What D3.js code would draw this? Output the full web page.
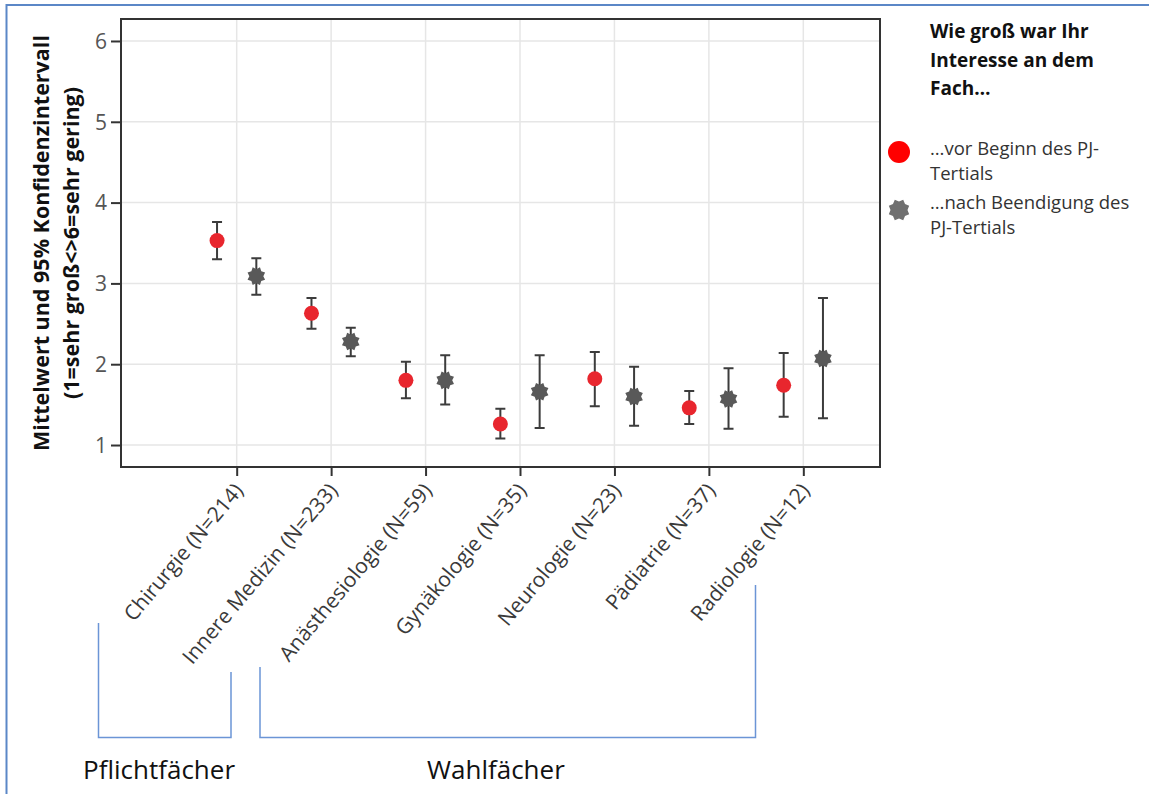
<!DOCTYPE html>
<html>
<head>
<meta charset="utf-8">
<script src="https://cdn.jsdelivr.net/npm/d3@7"></script>
<style>
  html, body { margin: 0; padding: 0; background: #fff; }
  svg { display: block; }
  text { font-family: "Open Sans", "Noto Sans", sans-serif; }
</style>
</head>
<body>
<svg id="chart" width="1149" height="794"></svg>
<script>
// Fächer und Fallzahlen
const categories = ["Chirurgie (N=214)", "Innere Medizin (N=233)", "Anästhesiologie (N=59)",
  "Gynäkologie (N=35)", "Neurologie (N=23)", "Pädiatrie (N=37)", "Radiologie (N=12)"];

// Mittelwerte und 95%-KI: vor Beginn des PJ-Tertials
const vorMean  = [3.53, 2.63, 1.80, 1.26, 1.82, 1.46, 1.74];
const vorLow   = [3.30, 2.44, 1.58, 1.08, 1.48, 1.26, 1.35];
const vorHigh  = [3.76, 2.82, 2.03, 1.45, 2.15, 1.67, 2.14];

// Mittelwerte und 95%-KI: nach Beendigung des PJ-Tertials
const nachMean = [3.09, 2.28, 1.80, 1.66, 1.60, 1.57, 2.07];
const nachLow  = [2.86, 2.10, 1.50, 1.21, 1.24, 1.20, 1.33];
const nachHigh = [3.31, 2.45, 2.11, 2.11, 1.97, 1.95, 2.82];

const yTicks = [1, 2, 3, 4, 5, 6];

const legendTitle = ["Wie groß war Ihr", "Interesse an dem", "Fach…"];
const legendVor  = ["…vor Beginn des PJ-", "Tertials"];
const legendNach = ["…nach Beendigung des", "PJ-Tertials"];
const yTitle = ["Mittelwert und 95% Konfidenzintervall", "(1=sehr groß<>6=sehr gering)"];
const groupLabels = ["Pflichtfächer", "Wahlfächer"];

const svg = d3.select("#chart");

// outer frame (left and top edges)
svg.append("path")
  .attr("d", "M6.5,794 V5 H1149")
  .attr("fill", "none").attr("stroke", "#5b87c7").attr("stroke-width", 2);

const plot = { left: 121, right: 880, top: 19, bottom: 467 };

const x = d3.scaleLinear().domain([-1.225, 6.812]).range([plot.left, plot.right]);
const y = d3.scaleLinear().domain([0.728, 6.272]).range([plot.bottom, plot.top]);
const idx = d3.range(categories.length);
const shift = 0.208; // horizontal offset of the two series within a category

// grid
const grid = svg.append("g").attr("stroke", "#e6e6e6").attr("stroke-width", 1.5);
grid.selectAll("line.h").data(yTicks).join("line")
  .attr("x1", plot.left).attr("x2", plot.right)
  .attr("y1", d => y(d)).attr("y2", d => y(d));
grid.selectAll("line.v").data(idx).join("line")
  .attr("y1", plot.top).attr("y2", plot.bottom)
  .attr("x1", d => x(d)).attr("x2", d => x(d));

// axes
const yAxis = d3.axisLeft(y).tickValues(yTicks).tickSize(10).tickPadding(4).tickFormat(d3.format("d"));
const gy = svg.append("g").attr("transform", `translate(${plot.left},0)`).call(yAxis);
gy.select(".domain").remove();
gy.selectAll(".tick line").attr("stroke", "#333").attr("stroke-width", 2);
gy.selectAll(".tick text").attr("font-size", 21).attr("fill", "#555").attr("dy", "0.35em");

const xAxis = d3.axisBottom(x).tickValues(idx).tickSize(9).tickFormat(i => categories[i]);
const gx = svg.append("g").attr("transform", `translate(0,${plot.bottom})`).call(xAxis);
gx.select(".domain").remove();
gx.selectAll(".tick line").attr("stroke", "#333").attr("stroke-width", 2);
gx.selectAll(".tick text")
  .attr("font-size", 21).attr("fill", "#3a3a3a")
  .attr("text-anchor", "end")
  .attr("y", 0).attr("dy", 0)
  .attr("transform", "translate(7,24) rotate(-50)");

// plot frame
svg.append("rect")
  .attr("x", plot.left).attr("y", plot.top)
  .attr("width", plot.right - plot.left).attr("height", plot.bottom - plot.top)
  .attr("fill", "none").attr("stroke", "#333").attr("stroke-width", 2);

// error bars
function errorBars(mean, low, high, off) {
  const g = svg.append("g").attr("stroke", "#3c3c3c").attr("stroke-width", 2).attr("fill", "none");
  const d = idx.map(i => ({ cx: x(i + off), lo: y(low[i]), hi: y(high[i]) }));
  g.selectAll("path").data(d).join("path")
    .attr("d", p => `M${p.cx - 5},${p.hi} H${p.cx + 5} M${p.cx},${p.hi} V${p.lo} M${p.cx - 5},${p.lo} H${p.cx + 5}`);
}
errorBars(vorMean, vorLow, vorHigh, -shift);
errorBars(nachMean, nachLow, nachHigh, shift);

// 8-pointed star marker
function starPath(rOut, rIn, n) {
  const pts = [];
  for (let k = 0; k < 2 * n; k++) {
    const r = k % 2 === 0 ? rOut : rIn;
    const a = Math.PI * k / n - Math.PI / 2;
    pts.push([r * Math.cos(a), r * Math.sin(a)]);
  }
  return "M" + pts.map(p => p.join(",")).join("L") + "Z";
}

svg.append("g").selectAll("circle").data(idx).join("circle")
  .attr("cx", i => x(i - shift)).attr("cy", i => y(vorMean[i]))
  .attr("r", 7.5).attr("fill", "#e8262e");

svg.append("g").selectAll("path").data(idx).join("path")
  .attr("transform", i => `translate(${x(i + shift)},${y(nachMean[i])}) rotate(22.5)`)
  .attr("d", starPath(9.5, 7, 8)).attr("fill", "#595959");

// y-axis title
const yt = svg.append("g").attr("font-weight", "bold").attr("font-size", 21.5).attr("fill", "#111");
yTitle.forEach((t, k) => {
  yt.append("text")
    .attr("transform", `translate(${49 + k * 30},243) rotate(-90)`)
    .attr("text-anchor", "middle").text(t);
});

// legend
const lg = svg.append("g");
legendTitle.forEach((t, k) => {
  lg.append("text").attr("x", 930).attr("y", 38 + k * 28.5)
    .attr("font-size", 19).attr("font-weight", "bold").attr("fill", "#111").text(t);
});
lg.append("circle").attr("cx", 899).attr("cy", 152).attr("r", 11).attr("fill", "#ff0000");
lg.append("path").attr("transform", "translate(899,210) rotate(22.5)")
  .attr("d", starPath(11, 8.5, 8)).attr("fill", "#707070");
legendVor.forEach((t, k) => {
  lg.append("text").attr("x", 930).attr("y", 155 + k * 24.5)
    .attr("font-size", 18.5).attr("fill", "#333").text(t);
});
legendNach.forEach((t, k) => {
  lg.append("text").attr("x", 930).attr("y", 209 + k * 24.5)
    .attr("font-size", 18.5).attr("fill", "#333").text(t);
});

// group brackets below the category labels
const br = svg.append("g").attr("stroke", "#6b95d6").attr("stroke-width", 1.5).attr("fill", "none");
br.append("path").attr("d", "M98.5,623 V737.5 H231 V672");
br.append("path").attr("d", "M260,667 V737.5 H755.5 V585");
svg.append("text").attr("x", 83).attr("y", 779).attr("font-size", 26).attr("fill", "#111").text(groupLabels[0]);
svg.append("text").attr("x", 427).attr("y", 779).attr("font-size", 26).attr("fill", "#111").text(groupLabels[1]);
</script>
</body>
</html>
